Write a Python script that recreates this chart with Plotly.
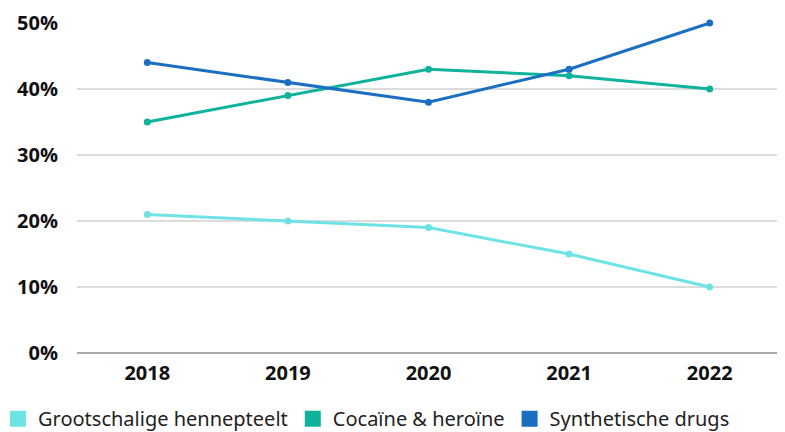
import plotly.graph_objects as go

years = ["2018", "2019", "2020", "2021", "2022"]
hennep = [0.21, 0.20, 0.19, 0.15, 0.10]
cocaine = [0.35, 0.39, 0.43, 0.42, 0.40]
synth = [0.44, 0.41, 0.38, 0.43, 0.50]
names = ["Grootschalige hennepteelt", "Cocaïne & heroïne", "Synthetische drugs"]
colors = ["#6ee3e6", "#0fb39b", "#1a6fc0"]
series = [hennep, cocaine, synth]

fig = go.Figure()
for name, vals, col in zip(names, series, colors):
    fig.add_trace(go.Scatter(x=years, y=vals, mode="lines+markers", name=name,
                             line=dict(color=col, width=3), marker=dict(color=col, size=7),
                             cliponaxis=False, showlegend=False, legendgroup=name))
for name, col in zip(names, colors):
    fig.add_trace(go.Scatter(x=[None], y=[None], mode="markers", name=name,
                             marker=dict(color=col, size=16, symbol="square"),
                             legendgroup=name))

fig.update_layout(
    width=777, height=424,
    margin=dict(l=69, r=5, t=15, b=79, autoexpand=False),
    plot_bgcolor="white", paper_bgcolor="white",
    font=dict(family="Open Sans", color="#111"),
    legend=dict(orientation="h", x=-0.1124, xanchor="left", y=-0.199, yanchor="middle",
                font=dict(family="Noto Sans", size=20, color="#222"),
                itemwidth=30, tracegroupgap=0),
    xaxis=dict(type="category", range=[-0.5, 4.5], showgrid=False, automargin=False,
               tickfont=dict(size=20, family="Open Sans", weight="bold", color="#111"),
               ticks="", showline=False, ticklabelstandoff=6),
    yaxis=dict(range=[0, 0.5], tickvals=[0, 0.1, 0.2, 0.3, 0.4, 0.5], tickformat=".0%",
               showgrid=True, gridcolor="#dcdcdc", gridwidth=1.5, automargin=False,
               zeroline=True, zerolinecolor="#aaaaaa", zerolinewidth=2,
               tickfont=dict(size=20, family="Open Sans", weight="bold", color="#111"),
               ticks="", ticklabelstandoff=18),
)
fig.write_html("out.html")
